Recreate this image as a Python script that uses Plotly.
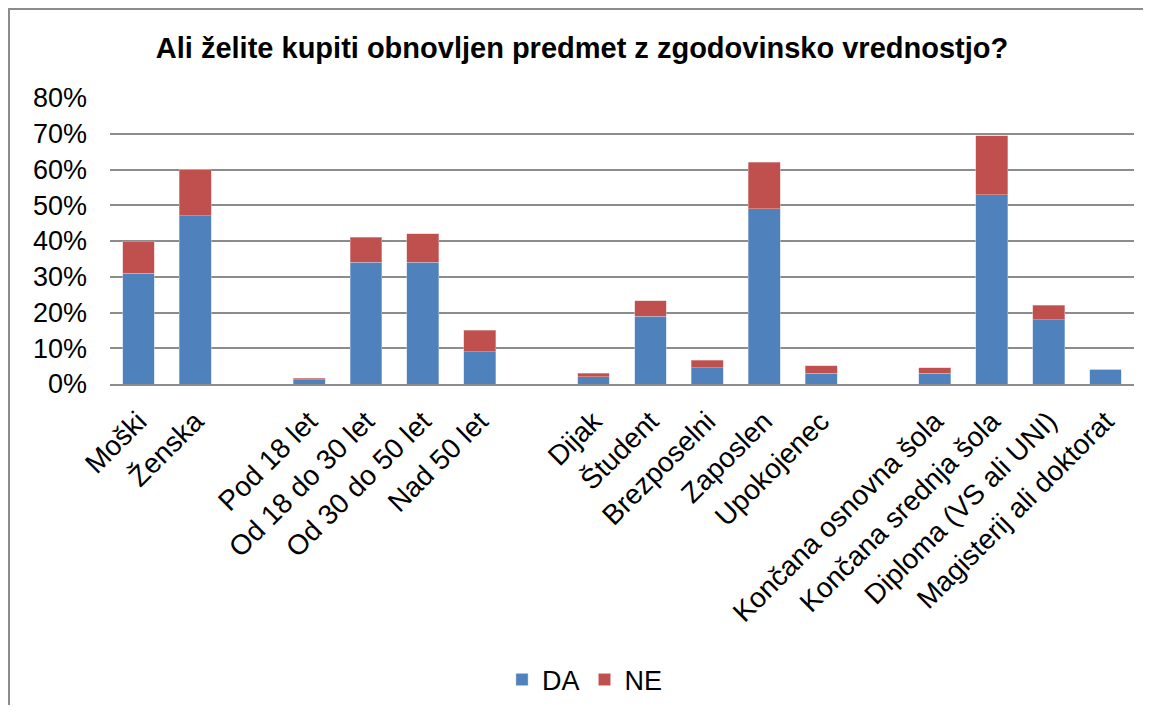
"""Anketa: nakup obnovljenega predmeta z zgodovinsko vrednostjo."""

import plotly.graph_objects as go

# kategorije (prazne kategorije so presledki med skupinami)
categories = [
    "Moški", "Ženska", " ",
    "Pod 18 let", "Od 18 do 30 let", "Od 30 do 50 let", "Nad 50 let", "  ",
    "Dijak", "Študent", "Brezposelni", "Zaposlen", "Upokojenec", "   ",
    "Končana osnovna šola", "Končana srednja šola",
    "Diploma (VS ali UNI)", "Magisterij ali doktorat",
]
da_values = [31, 47, None, 1.2, 34, 34, 9, None,
             2, 19, 4.5, 49, 3, None, 3, 53, 18, 4]
ne_values = [9, 13, None, 0.4, 7, 8, 6, None,
             1, 4.3, 2.1, 13, 2.1, None, 1.5, 16.5, 4, 0]
y_ticks = [0, 10, 20, 30, 40, 50, 60, 70, 80]

# stran ima 8 px roba (body margin) na vseh straneh
PAGE = 8
W, H = 1151 - 2 * PAGE, 713 - 2 * PAGE
L, R, T, B = 110 - PAGE, 17 - PAGE, 98 - PAGE, 329 - PAGE
plot_w = W - L - R
plot_h = H - T - B

font = "Liberation Sans, Arial, sans-serif"
grid_color = "#8c8c8c"

fig = go.Figure()
fig.add_trace(go.Bar(
    x=categories, y=da_values, name="DA",
    marker=dict(color="#4F81BD", line=dict(color="#b9cce4", width=0.5)),
))
fig.add_trace(go.Bar(
    x=categories, y=ne_values, name="NE",
    marker=dict(color="#C0504D", line=dict(color="#e6b9b8", width=0.5)),
))

fig.update_layout(
    barmode="stack",
    bargap=0.44,
    width=W,
    height=H,
    margin=dict(l=L, r=R, t=T, b=B, autoexpand=False),
    paper_bgcolor="white",
    plot_bgcolor="white",
    font=dict(family=font, color="black"),
    title=dict(
        text="<b>Ali želite kupiti obnovljen predmet z zgodovinsko vrednostjo?</b>",
        x=(582 - PAGE) / W, xanchor="center",
        y=1 - (48 - PAGE) / H, yanchor="middle",
        font=dict(size=29, family=font),
    ),
    showlegend=True,
    legend=dict(
        orientation="h",
        traceorder="normal",
        x=(502 - 110) / plot_w, xanchor="left",
        y=(384 - 680) / plot_h, yanchor="middle",
        font=dict(size=27),
        itemwidth=30,
        bgcolor="rgba(0,0,0,0)",
    ),
)

fig.update_yaxes(
    range=[0, 80],
    tickvals=y_ticks,
    ticktext=[f"{v}%" for v in y_ticks],
    tickfont=dict(size=27),
    showgrid=True,
    gridcolor=grid_color,
    gridwidth=1.5,
    zeroline=False,
    ticklabelstandoff=22,
)
fig.update_xaxes(
    type="category",
    categoryorder="array",
    categoryarray=categories,
    tickangle=-45,
    tickfont=dict(size=28),
    showline=True,
    linecolor=grid_color,
    linewidth=1.5,
    ticklabelstandoff=8,
)

# okvir grafikona (vidna sta le levi in zgornji rob)
bx = (1 - L) / plot_w
by = (T + plot_h - 1) / plot_h
fig.add_shape(
    type="path", xref="paper", yref="paper",
    path=f"M {bx},-1.5 L {bx},{by} L 1.2,{by}",
    line=dict(color="#8c8c8c", width=2),
    layer="below",
)

fig.write_html("out.html")
